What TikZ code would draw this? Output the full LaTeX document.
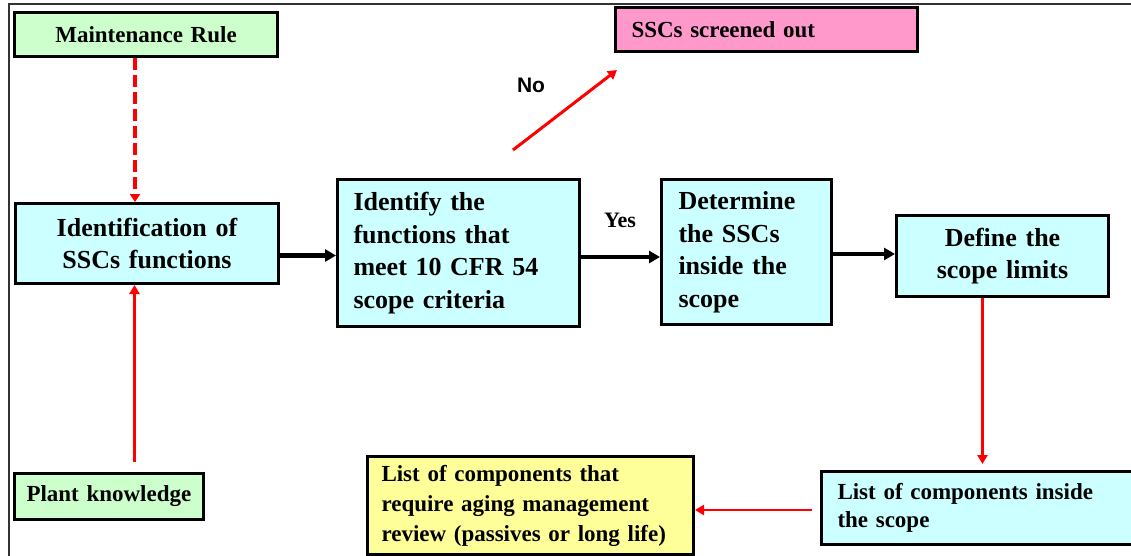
\documentclass[tikz,border=0pt]{standalone}
\usepackage{fontspec}
\setmainfont{Liberation Serif}
\newfontfamily\labelsans{Liberation Sans}
\usetikzlibrary{arrows.meta,calc}
\definecolor{boxgreen}{HTML}{CCFFCC}
\definecolor{boxcyan}{HTML}{CCFFFF}
\definecolor{boxpink}{HTML}{FF99CC}
\definecolor{boxyellow}{HTML}{FFFF99}
\definecolor{framegray}{HTML}{333333}
\begin{document}
\begin{tikzpicture}[x=1pt,y=-1pt,
  box/.style={draw=black, line width=3pt, anchor=north west, inner ysep=2pt},
  bigtext/.style={font=\fontsize{26}{32.5}\selectfont\bfseries},
  smalltext/.style={font=\fontsize{23}{28}\selectfont\bfseries},
  flow/.style={line width=4.5pt, black, -{Triangle[length=11pt,width=12pt]}},
  redflow/.style={line width=2.5pt, red, -{Triangle[length=9pt,width=10pt]}},
  reddash/.style={line width=3.5pt, red, dash pattern=on 12pt off 5pt, -{Triangle[length=8pt,width=10pt]}}
]
\useasboundingbox (0,0) rectangle (1131,556);
% frame
\draw[framegray, line width=2pt] (9,556) -- (9,4) -- (1131,4);

% boxes
\node[box, fill=boxgreen, smalltext, minimum width=263pt, minimum height=44pt,
      text width=243pt, align=center] (mr) at (13,11) {Maintenance Rule};
\node[box, fill=boxcyan, bigtext, minimum width=263pt, minimum height=80pt,
      text width=243pt, align=center] (id) at (14,202) {Identification of\\SSCs functions};
\node[box, fill=boxgreen, smalltext, minimum height=46pt, inner xsep=12pt,
      text width=165pt, align=left] (pk) at (13,472) {Plant knowledge};
\node[box, fill=boxcyan, bigtext, minimum height=147pt, inner xsep=16pt,
      text width=210pt, align=left] (fn) at (336,178)
      {Identify the\\functions that\\meet 10 CFR 54\\scope criteria};
\node[box, fill=boxcyan, bigtext, minimum height=145pt, inner xsep=17pt,
      text width=136pt, align=left] (det) at (660,178)
      {Determine\\the SSCs\\inside the\\scope};
\node[box, fill=boxcyan, bigtext, minimum width=212pt, minimum height=81pt,
      text width=192pt, align=center] (def) at (895,214) {Define the\\scope limits};
\node[box, fill=boxpink, smalltext, minimum height=44pt, inner xsep=16pt,
      text width=270pt, align=left] (out) at (614,6) {SSCs screened out};
\node[box, fill=boxcyan, smalltext, minimum height=73pt, inner xsep=16pt,
      text width=286pt, align=left] (ins) at (820,470)
      {List of components inside\\the scope};
\node[box, fill=boxyellow, font=\fontsize{23}{30}\selectfont\bfseries,
      minimum height=98pt, inner xsep=14pt,
      text width=298pt, align=left] (aging) at (366,455)
      {List of components that\\require aging management\\review (passives or long life)};

% labels
\node[font=\labelsans\fontsize{21}{21}\selectfont\bfseries] (nolab) at (531,85) {No};
\node[font=\fontsize{22}{22}\selectfont\bfseries] (yeslab) at (620,220) {Yes};

% connectors
\draw[reddash] ([xshift=-11pt]mr.south) -- ([xshift=-12pt]id.north);
\draw[redflow, shorten <=10pt] ([xshift=25.5pt]pk.north) -- ([xshift=-12.5pt]id.south);
\draw[flow] ([yshift=-12pt]id.east) -- ([yshift=-12pt]id.east -| fn.west);
\draw[flow] ([yshift=-4pt]fn.east) -- ([yshift=-4pt]fn.east -| det.west);
\draw[flow] ([yshift=-2pt]det.east) -- ([yshift=-2pt]det.east -| def.west);
\draw[redflow, shorten >=6pt] ([xshift=-20pt]def.south) -- ([xshift=-20pt]def.south |- ins.north);
\draw[redflow, shorten <=8pt] ([yshift=-2pt]ins.west) -- ([yshift=-2pt]ins.west -| aging.east);
\coordinate (nostart) at (513,150);
\coordinate (noend) at (617,70);
\draw[redflow, line width=3pt] (nostart) -- (noend);
\end{tikzpicture}
\end{document}
